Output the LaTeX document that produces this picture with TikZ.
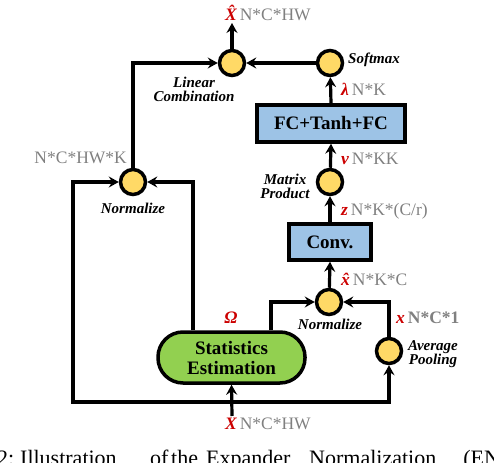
\documentclass[tikz,border=0pt]{standalone}
\usepackage{fontspec}
\setmainfont{LiberationSerif}[Extension=.ttf,UprightFont=*-Regular,BoldFont=*-Bold,ItalicFont=*-Italic,BoldItalicFont=*-BoldItalic]
\usetikzlibrary{arrows.meta,calc}
\definecolor{cyel}{RGB}{255,217,102}
\definecolor{cblue}{RGB}{157,195,230}
\definecolor{cgreen}{RGB}{146,208,80}
\definecolor{cred}{RGB}{204,0,0}
\definecolor{cgray}{RGB}{128,128,128}
\tikzset{
  dot/.style={circle,draw,line width=3.5pt,fill=cyel,minimum size=25pt,inner sep=0pt},
  blk/.style={rectangle,draw,line width=3.5pt,fill=cblue,inner sep=0pt,font=\fontsize{19}{22}\selectfont\bfseries},
  stat/.style={rectangle,draw,line width=3.5pt,fill=cgreen,inner sep=0pt,rounded corners=25pt,align=center,font=\fontsize{19}{20}\selectfont\bfseries},
  arr/.style={line width=3.2pt,-{Stealth[length=10pt,width=11pt,inset=3.5pt]}},
  arrboth/.style={line width=3.2pt,{Stealth[length=10pt,width=11pt,inset=3.5pt]}-{Stealth[length=10pt,width=11pt,inset=3.5pt]}},
  op/.style={font=\fontsize{15}{14}\selectfont\bfseries\itshape,align=center,inner sep=0pt},
  dim/.style={font=\fontsize{17.5}{18}\selectfont,text=cgray,inner sep=0pt},
}
\newcommand{\rs}[1]{\textcolor{cred}{\bfseries\itshape #1}}
\begin{document}
\begin{tikzpicture}[x=1pt,y=-1pt]
\useasboundingbox (0,0) rectangle (494,462);
% operators
\node[dot] (lc) at (232,63) {};
\node[dot] (sm) at (330,63) {};
\node[blk,minimum width=148pt,minimum height=37pt] (fc) at (331,123.5) {FC+Tanh+FC};
\node[dot] (mp) at (330,182) {};
\node[blk,minimum width=82pt,minimum height=36pt] (conv) at (330,242) {Conv.};
\node[dot] (nl) at (329,302) {};
\node[dot] (ap) at (389,351) {};
\node[stat,minimum width=147pt,minimum height=51pt] (se) at (231.5,357.5) {Statistics\\Estimation};
\node[dot] (nu) at (133,182) {};
\coordinate (xout) at (232,23);
\coordinate (xin) at (232,416);
\coordinate (bl) at (73,402);
% connectors
\draw[arr] (lc) -- (xout);
\draw[arr] (sm) -- (lc);
\draw[arr] (fc.north) -- (sm);
\draw[arr] (mp) -- (fc.south);
\draw[arr] (conv.north) -- (mp);
\draw[arr] (nl) -- (conv.south);
\draw[arr] ([xshift=39.5pt]se.north) |- (nl);
\draw[arr] (ap) |- (nl);
\draw[arrboth] (nu) -| (bl) -| (ap);
\draw[arr] ([xshift=-38.5pt]se.north) |- (nu);
\draw[arr] (nu) |- (lc);
\draw[arr] (xin) -- (se.south);
% operator labels
\node[op] (lcl) at (194,89) {Linear\\Combination};
\node[op,anchor=west] (sml) at (348,60) {Softmax};
\node[op] (mpl) at (285,186) {Matrix\\Product};
\node[op] (nll) at (330,324) {Normalize};
\node[op] (nul) at (133,208) {Normalize};
\node[op] (apl) at (433,354) {Average\\Pooling};
% dimension labels
\node[dim,anchor=base west] (lxh) at (225,20.5) {\rs{\^X}\,N*C*HW};
\node[dim,anchor=base east] (lk) at (127,164) {N*C*HW*K};
\node[dim,anchor=base west] (llam) at (341,96) {\rs{λ}\,N*K};
\node[dim,anchor=base west] (lv) at (341,165) {\rs{v}\,N*KK};
\node[dim,anchor=base west] (lz) at (341,215) {\rs{z}\,N*K*(C/r)};
\node[dim,anchor=base west] (lxhat) at (341,285) {\rs{\^x}\,N*K*C};
\node[dim,anchor=base west] (lx) at (396,323) {\rs{x}\,\textbf{N*C*1}};
\node[dim,anchor=base] (lom) at (231,323) {\rs{Ω}};
\node[dim,anchor=base west] (lX) at (225,429) {\rs{X}\,N*C*HW};
% cut-off caption
\begin{scope}
\clip (0,0) rectangle (494,462);
\node[anchor=base west,inner sep=0pt,font=\fontsize{22}{24}\selectfont] (cap) at (-3,465)
  {\rlap{2:}\hspace{23pt}\rlap{Illustration}\hspace{130pt}\rlap{of}\hspace{21pt}\rlap{the}\hspace{35pt}\rlap{Expander}\hspace{103pt}\rlap{Normalization}\hspace{154pt}(EN)};
\end{scope}
\end{tikzpicture}
\end{document}
